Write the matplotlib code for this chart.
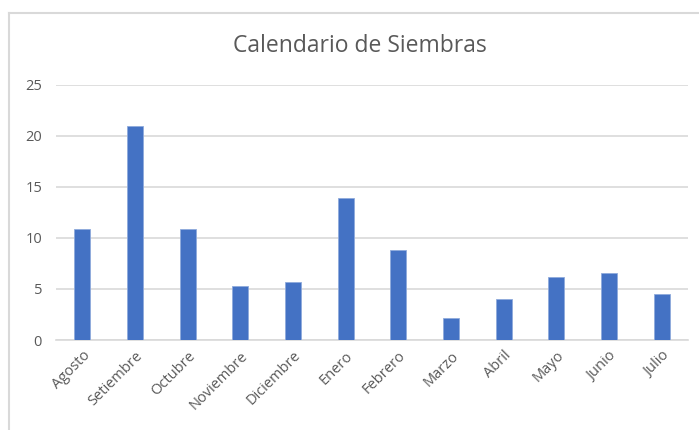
import matplotlib
matplotlib.use('Agg')
import matplotlib.pyplot as plt
from matplotlib.lines import Line2D

# datos
meses = ['Agosto', 'Setiembre', 'Octubre', 'Noviembre', 'Diciembre', 'Enero',
         'Febrero', 'Marzo', 'Abril', 'Mayo', 'Junio', 'Julio']
siembras = [10.9, 21.0, 10.9, 5.3, 5.7, 13.9, 8.8, 2.2, 4.0, 6.2, 6.6, 4.5]
yticks = [0, 5, 10, 15, 20, 25]

plt.rcParams['font.family'] = ['Open Sans', 'DejaVu Sans']

fig = plt.figure(figsize=(6.99, 4.30), dpi=100)
ax = fig.add_axes([56/699, 90/430, 632/699, 255/430])

x = range(len(meses))
ax.bar(x, siembras, width=0.31, color='#4472C4', edgecolor='#8FAADC', linewidth=0.6, zorder=3)

ax.set_xlim(-0.5, len(meses) - 0.5)
ax.set_ylim(0, 25)
ax.set_yticks(yticks)
ax.set_xticks(list(x))
ax.set_xticklabels(meses, rotation=45, ha='right', rotation_mode='anchor')
ax.tick_params(axis='both', length=0, colors='#595959', labelsize=10.5)
ax.tick_params(axis='y', pad=10)
ax.tick_params(axis='x', pad=6)
ax.grid(axis='y', color='#D9D9D9', linewidth=1.2, zorder=0)
for s in ['top', 'right', 'left']:
    ax.spines[s].set_visible(False)
ax.spines['bottom'].set_color('#D9D9D9')
ax.spines['bottom'].set_linewidth(1.2)

fig.text(360/699, 1 - 46/430, 'Calendario de Siembras', ha='center', va='center',
         fontsize=16.5, color='#595959')

# marco del grafico
fig.add_artist(Line2D([8.5/699, 1], [1 - 13/430, 1 - 13/430], color='#D9D9D9', lw=1.5))
fig.add_artist(Line2D([8.5/699, 8.5/699], [0, 1 - 13/430], color='#D9D9D9', lw=1.5))

fig.savefig('out.png', dpi=100)
